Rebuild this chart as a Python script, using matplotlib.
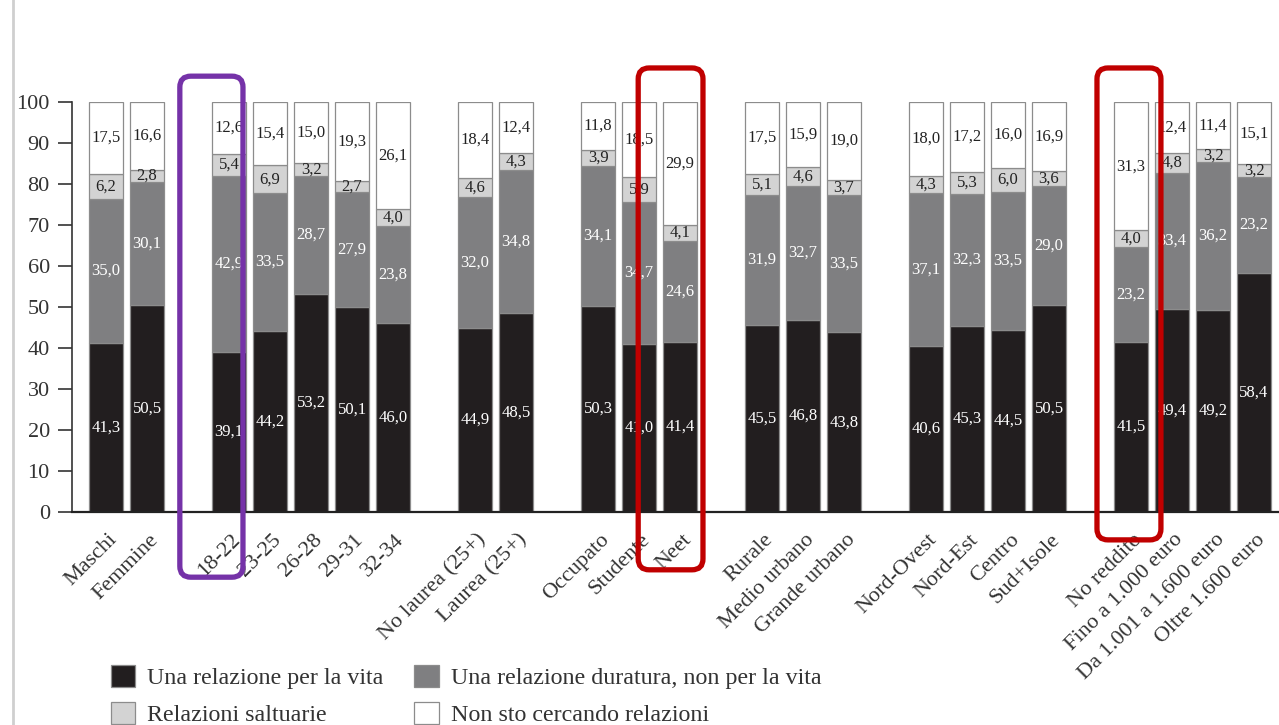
import numpy as np
import matplotlib
matplotlib.use("Agg")
import matplotlib.pyplot as plt
from matplotlib.patches import FancyBboxPatch, Patch
from matplotlib.lines import Line2D
from matplotlib.transforms import ScaledTranslation

plt.rcParams["font.family"] = ["Liberation Serif", "DejaVu Serif"]

# Categories, grouped (one blank slot between groups)
categories = [
    "Maschi", "Femmine",
    "18-22", "23-25", "26-28", "29-31", "32-34",
    "No laurea (25+)", "Laurea (25+)",
    "Occupato", "Studente", "Neet",
    "Rurale", "Medio urbano", "Grande urbano",
    "Nord-Ovest", "Nord-Est", "Centro", "Sud+Isole",
    "No reddito", "Fino a 1.000 euro", "Da 1.001 a 1.600 euro", "Oltre 1.600 euro",
]
group_sizes = [2, 5, 2, 3, 3, 4, 4]

series_names = [
    "Una relazione per la vita",
    "Una relazione duratura, non per la vita",
    "Relazioni saltuarie",
    "Non sto cercando relazioni",
]
per_la_vita = [41.3, 50.5, 39.1, 44.2, 53.2, 50.1, 46.0, 44.9, 48.5, 50.3, 41.0, 41.4,
               45.5, 46.8, 43.8, 40.6, 45.3, 44.5, 50.5, 41.5, 49.4, 49.2, 58.4]
duratura = [35.0, 30.1, 42.9, 33.5, 28.7, 27.9, 23.8, 32.0, 34.8, 34.1, 34.7, 24.6,
            31.9, 32.7, 33.5, 37.1, 32.3, 33.5, 29.0, 23.2, 33.4, 36.2, 23.2]
saltuarie = [6.2, 2.8, 5.4, 6.9, 3.2, 2.7, 4.0, 4.6, 4.3, 3.9, 5.9, 4.1,
             5.1, 4.6, 3.7, 4.3, 5.3, 6.0, 3.6, 4.0, 4.8, 3.2, 3.2]
non_cerco = [17.5, 16.6, 12.6, 15.4, 15.0, 19.3, 26.1, 18.4, 12.4, 11.8, 18.5, 29.9,
             17.5, 15.9, 19.0, 18.0, 17.2, 16.0, 16.9, 31.3, 12.4, 11.4, 15.1]

y_ticks = [0, 10, 20, 30, 40, 50, 60, 70, 80, 90, 100]

fill_colors = ["#221e1f", "#7f7f81", "#d3d3d3", "#ffffff"]
text_colors = ["white", "white", "#222222", "#222222"]

# slot positions: groups separated by one empty slot
positions = []
slot = 0
for g in group_sizes:
    positions.extend(range(slot, slot + g))
    slot += g + 1
positions = np.array(positions, dtype=float)

W, H = 1279, 725
fig = plt.figure(figsize=(W / 100, H / 100), dpi=100)
ax = fig.add_axes([72 / W, 1 - 512 / H, 1 - 72 / W, (512 - 102) / H])

series = [per_la_vita, duratura, saltuarie, non_cerco]
bottom = np.zeros(len(categories))
for vals, fc, tc in zip(series, fill_colors, text_colors):
    vals = np.array(vals)
    ax.bar(positions, vals, bottom=bottom, width=0.83, color=fc,
           edgecolor="#8c8c8c", linewidth=0.9, zorder=2)
    for x, b, v in zip(positions, bottom, vals):
        ax.text(x, b + v / 2, f"{v:.1f}".replace(".", ","), ha="center",
                va="center", fontsize=12, color=tc, zorder=3)
    bottom += vals

ax.set_xlim(-0.83, (W - 106) / 41)
ax.set_ylim(0, 100)
ax.set_yticks(y_ticks)
ax.set_yticklabels([str(t) for t in y_ticks], fontsize=16, color="#333333")
ax.tick_params(axis="y", length=10, width=1.2, color="#333333", pad=6)
ax.set_xticks(positions)
ax.set_xticklabels(categories, rotation=45, ha="right", va="center",
                   rotation_mode="anchor", fontsize=16, color="#333333")
ax.tick_params(axis="x", length=0, pad=18)
shift = ScaledTranslation(6 / 72, 0, fig.dpi_scale_trans)
for lbl in ax.get_xticklabels():
    lbl.set_transform(lbl.get_transform() + shift)

for s in ["top", "right"]:
    ax.spines[s].set_visible(False)
ax.spines["left"].set_color("#333333")
ax.spines["left"].set_linewidth(1.2)
ax.spines["bottom"].set_color("#222222")
ax.spines["bottom"].set_linewidth(1.6)
ax.patch.set_visible(False)

# legend
handles = [Patch(facecolor=c, edgecolor="#8c8c8c", linewidth=0.9) for c in fill_colors]
order = [0, 2, 1, 3]
fig.legend([handles[i] for i in order], [series_names[i] for i in order],
           ncol=2, loc="upper left", bbox_to_anchor=(89 / W, 1 - 643 / H),
           frameon=False, fontsize=17.3, handlelength=1.03, handleheight=1.03,
           handletextpad=0.5, columnspacing=1.25, labelspacing=0.55,
           labelcolor="#333333")

# page border on the left
fig.add_artist(Line2D([13 / W, 13 / W], [0, 1], transform=fig.transFigure,
                      color="#cfcfcf", linewidth=2))

# highlight frames around selected categories
fig.canvas.draw()
overlay = fig.add_axes([0, 0, 1, 1], zorder=10)
overlay.set_xlim(0, W)
overlay.set_ylim(0, H)
overlay.axis("off")
overlay.patch.set_visible(False)

highlights = [
    ("18-22", -1.2, 0.34, -15.9, 106.3, "#7532a8"),
    ("Neet", -1.02, 0.56, -14.1, 108.3, "#c00000"),
    ("No reddito", -0.83, 0.73, -6.8, 108.3, "#c00000"),
]
for name, dx0, dx1, y0, y1, col in highlights:
    xc = positions[categories.index(name)]
    (px0, py0), (px1, py1) = ax.transData.transform([(xc + dx0, y0), (xc + dx1, y1)])
    r = 11
    overlay.add_patch(FancyBboxPatch((px0 + r, py0 + r), px1 - px0 - 2 * r, py1 - py0 - 2 * r,
                                     boxstyle=f"round,pad={r},rounding_size={r}",
                                     fill=False, edgecolor=col, linewidth=3.8))

fig.savefig("out.png", dpi=100)
